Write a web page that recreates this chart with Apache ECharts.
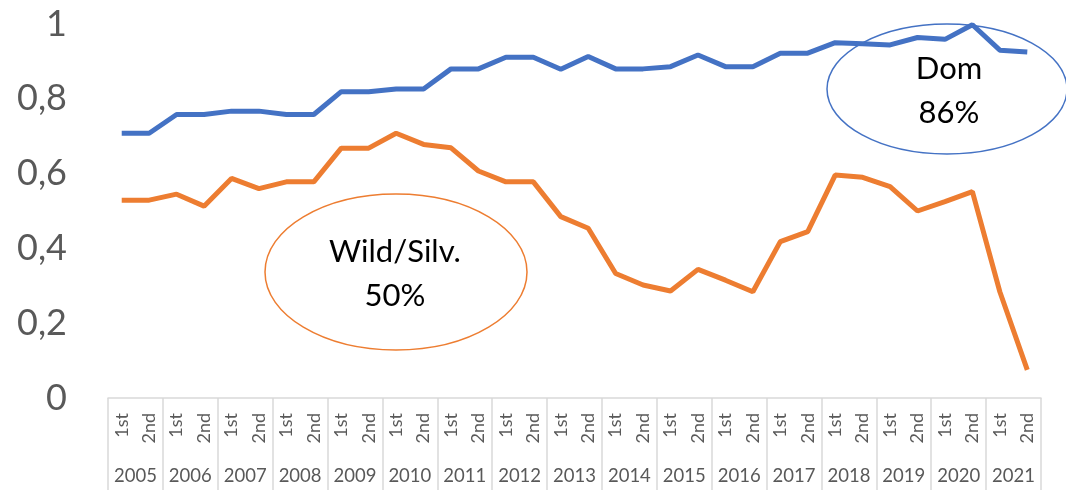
<!DOCTYPE html>
<html>
<head>
<meta charset="utf-8">
<script src="https://cdn.jsdelivr.net/npm/echarts@6/dist/echarts.min.js"></script>
<style>
  html, body { margin: 0; padding: 0; background: #fff; }
  #chart { width: 1066px; height: 490px; }
</style>
</head>
<body>
<div id="chart"></div>
<script>
// half-year categories and the year groups under them
const halves = []
const years = ['2005', '2006', '2007', '2008', '2009', '2010', '2011', '2012', '2013',
    '2014', '2015', '2016', '2017', '2018', '2019', '2020', '2021']
years.forEach(() => { halves.push('1st', '2nd') })

// values
const domValues = [0.708, 0.708, 0.758, 0.758, 0.767, 0.767, 0.758, 0.758, 0.819, 0.819,
    0.826, 0.826, 0.880, 0.880, 0.911, 0.911, 0.879, 0.913, 0.880, 0.880,
    0.886, 0.917, 0.886, 0.886, 0.922, 0.922, 0.950, 0.947, 0.944, 0.964,
    0.959, 0.998, 0.930, 0.925]
const wildValues = [0.529, 0.529, 0.545, 0.513, 0.587, 0.560, 0.578, 0.578, 0.668, 0.668,
    0.708, 0.678, 0.669, 0.607, 0.578, 0.578, 0.485, 0.454, 0.333, 0.302,
    0.286, 0.344, 0.315, 0.284, 0.418, 0.445, 0.596, 0.590, 0.565, 0.500,
    0.525, 0.552, 0.284, 0.075]

const font = 'Lato, "Open Sans", sans-serif'
const gray = '#595959'
const border = '#d9d9d9'

const chart = echarts.init(document.getElementById('chart'))

const option = {
    animation: false,
    textStyle: { fontFamily: font },
    grid: { left: 108, right: 25, top: 24, bottom: 92 },
    xAxis: [
        {
            type: 'category',
            data: halves,
            boundaryGap: true,
            axisLine: { show: true, lineStyle: { color: border, width: 1.5 } },
            axisTick: { show: false },
            axisLabel: {
                interval: 0,
                rotate: 90,
                margin: 15,
                fontSize: 18,
                color: gray,
                fontFamily: font
            },
            splitLine: { show: false }
        },
        {
            type: 'category',
            data: years,
            position: 'bottom',
            offset: 92,
            boundaryGap: true,
            axisLine: { show: false },
            axisTick: {
                show: true,
                inside: true,
                length: 92,
                lineStyle: { color: border, width: 1.5 }
            },
            axisLabel: {
                interval: 0,
                margin: -23,
                fontSize: 18.5,
                color: gray,
                fontFamily: font
            },
            splitLine: { show: false }
        }
    ],
    yAxis: {
        type: 'value',
        min: 0,
        max: 1,
        interval: 0.2,
        axisLine: { show: false },
        axisTick: { show: false },
        splitLine: { show: false },
        axisLabel: {
            margin: 41,
            fontSize: 36,
            color: gray,
            fontFamily: font,
            formatter: v => String(Math.round(v * 10) / 10).replace('.', ',')
        }
    },
    series: [
        {
            name: 'Dom',
            type: 'line',
            xAxisIndex: 0,
            data: domValues,
            symbol: 'none',
            lineStyle: { color: '#4472C4', width: 5 },
            itemStyle: { color: '#4472C4' }
        },
        {
            name: 'Wild/Silv.',
            type: 'line',
            xAxisIndex: 0,
            data: wildValues,
            symbol: 'none',
            lineStyle: { color: '#ED7D31', width: 5 },
            itemStyle: { color: '#ED7D31' }
        }
    ],
    graphic: [
        {
            type: 'ellipse',
            shape: { cx: 947, cy: 89, rx: 120, ry: 65 },
            style: { fill: 'transparent', stroke: '#4472C4', lineWidth: 1.5 },
            z: 10
        },
        {
            type: 'text',
            x: 949,
            y: 91,
            style: {
                text: 'Dom\n86%',
                font: '31px ' + font,
                fill: '#000',
                align: 'center',
                verticalAlign: 'middle',
                lineHeight: 44
            },
            z: 11
        },
        {
            type: 'ellipse',
            shape: { cx: 396, cy: 272, rx: 131, ry: 78 },
            style: { fill: 'transparent', stroke: '#ED7D31', lineWidth: 1.5 },
            z: 10
        },
        {
            type: 'text',
            x: 395,
            y: 274,
            style: {
                text: 'Wild/Silv.\n50%',
                font: '31px ' + font,
                fill: '#000',
                align: 'center',
                verticalAlign: 'middle',
                lineHeight: 44
            },
            z: 11
        }
    ]
}

chart.setOption(option)
</script>
</body>
</html>
